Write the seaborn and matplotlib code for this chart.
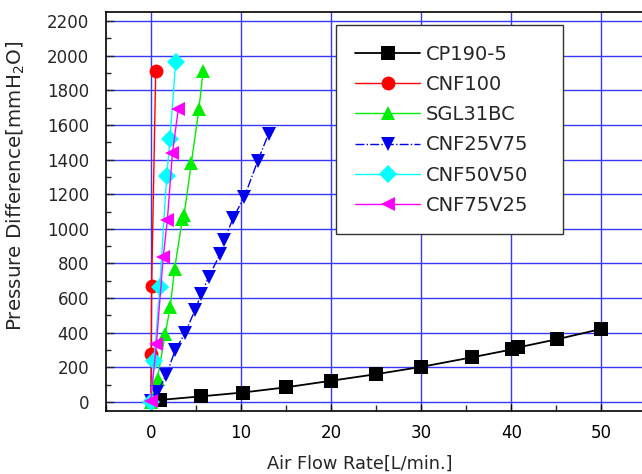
import numpy as np
import pandas as pd
import matplotlib
matplotlib.use("Agg")
import matplotlib.pyplot as plt
from matplotlib.ticker import MultipleLocator
import seaborn as sns

sns.set_theme(style="white")
plt.rcParams["font.family"] = ["DejaVu Sans"]
plt.rcParams["mathtext.fontset"] = "dejavusans"

# Air flow rate [L/min.] and pressure difference [mmH2O] per sample
cp190_flow = [1.0, 5.6, 10.2, 15.0, 20.0, 25.0, 30.0, 35.6, 40.1, 40.7, 45.1, 49.9]
cp190_dp = [12, 33, 55, 85, 123, 161, 203, 258, 304, 315, 363, 421]

cnf100_flow = [0.0, 0.05, 0.1, 0.55]
cnf100_dp = [0, 278, 670, 1910]

sgl_flow = [0.0, 0.75, 1.6, 2.15, 2.65, 3.5, 3.7, 4.5, 5.35, 5.8]
sgl_dp = [0, 136, 392, 546, 770, 1055, 1080, 1380, 1693, 1910]

cnf25_flow = [0.0, 0.74, 1.73, 2.71, 3.79, 4.9, 5.6, 6.44, 7.73, 8.18, 9.14, 10.39, 11.86, 13.07]
cnf25_dp = [5, 60, 156, 300, 396, 530, 622, 724, 857, 938, 1062, 1185, 1391, 1549]

cnf50_flow = [0.0, 0.37, 1.0, 1.77, 2.13, 2.76]
cnf50_dp = [0, 237, 665, 1303, 1516, 1961]

cnf75_flow = [0.0, 0.63, 1.38, 1.84, 2.4, 3.06]
cnf75_dp = [8, 334, 837, 1049, 1437, 1692]

series = [
    ("CP190-5", cp190_flow, cp190_dp, "black", "s", "-", 1.3),
    ("CNF100", cnf100_flow, cnf100_dp, "#ff0000", "o", "-", 1.0),
    ("SGL31BC", sgl_flow, sgl_dp, "#00ee00", "^", "-", 1.0),
    ("CNF25V75", cnf25_flow, cnf25_dp, "#0000ee", "v", "-.", 1.0),
    ("CNF50V50", cnf50_flow, cnf50_dp, "#00ffff", "D", "-", 1.0),
    ("CNF75V25", cnf75_flow, cnf75_dp, "#ff00ff", "<", "-", 1.0),
]

fig = plt.figure(figsize=(6.42, 4.74), dpi=100)
# the plotting area runs past the right edge of the canvas
ax = fig.add_axes([0.1646, 0.1335, 0.8425, 0.8405])

for name, xs, ys, col, mk, ls, lw in series:
    df = pd.DataFrame({"flow": xs, "dp": ys})
    sns.lineplot(data=df, x="flow", y="dp", ax=ax, color=col, marker=mk,
                 markersize=10 if mk != "D" else 9, markeredgewidth=0,
                 linewidth=lw, linestyle=ls, sort=False, estimator=None,
                 label=name, legend=False)

ax.set_xlim(-5, 55)
ax.set_ylim(-50, 2250)
ax.xaxis.set_major_locator(MultipleLocator(10))
ax.xaxis.set_minor_locator(MultipleLocator(5))
ax.yaxis.set_major_locator(MultipleLocator(200))
ax.yaxis.set_minor_locator(MultipleLocator(100))
ax.set_xticks([0, 10, 20, 30, 40, 50])
ax.set_xticklabels(["0", "10", "20", "30", "40", "50"])

ax.grid(True, which="major", color="#3838ff", linewidth=1.0)
ax.set_axisbelow(True)

ax.tick_params(axis="x", which="major", direction="in", length=5, width=1,
               labelsize=12, pad=9.5, colors="black", bottom=True)
ax.tick_params(axis="x", which="minor", direction="in", length=4, width=1, bottom=True)
ax.tick_params(axis="y", which="major", direction="in", length=6, width=1,
               labelsize=12, pad=12, left=True)
ax.tick_params(axis="y", which="minor", direction="in", length=3.5, width=1, left=True)

for side in ["left", "bottom", "top", "right"]:
    ax.spines[side].set_color("black")
    ax.spines[side].set_linewidth(1.2)

ax.set_xlabel("Air Flow Rate[L/min.]", fontsize=12.8)
ax.set_ylabel("Pressure Difference[mmH$_2$O]", fontsize=14.3)
ax.xaxis.set_label_coords(0.469, -0.111)
ax.yaxis.set_label_coords(-0.1455, 0.564)

leg = ax.legend(loc="upper left", bbox_to_anchor=(0.4252, 0.968, 0.4197, 0.0),
                mode="expand", borderaxespad=0, fontsize=14,
                handlelength=3.35, handletextpad=0.3, labelspacing=0.58,
                borderpad=1.0, fancybox=False, framealpha=1,
                edgecolor="#333333")
leg.get_frame().set_linewidth(1.0)

fig.savefig("out.png", dpi=100)
